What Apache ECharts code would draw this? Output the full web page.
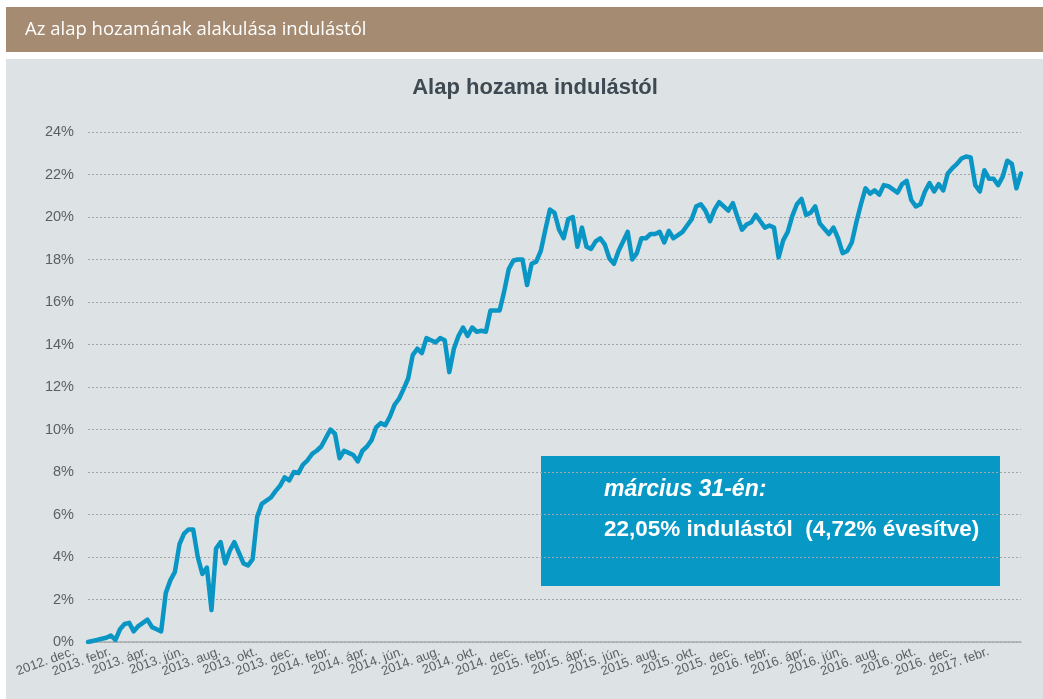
<!DOCTYPE html>
<html>
<head>
<meta charset="utf-8">
<script src="https://cdn.jsdelivr.net/npm/echarts@6/dist/echarts.min.js"></script>
<style>
  html, body { margin: 0; padding: 0; background: #fff; }
  #chart { width: 1043px; height: 699px; }
</style>
</head>
<body>
<div id="chart"></div>
<script>
// x-axis labels, one every two months
const tickLabels = [
  '2012. dec.', '2013. febr.', '2013. ápr.', '2013. jún.', '2013. aug.', '2013. okt.',
  '2013. dec.', '2014. febr.', '2014. ápr.', '2014. jún.', '2014. aug.', '2014. okt.',
  '2014. dec.', '2015. febr.', '2015. ápr.', '2015. jún.', '2015. aug.', '2015. okt.',
  '2015. dec.', '2016. febr.', '2016. ápr.', '2016. jún.', '2016. aug.', '2016. okt.',
  '2016. dec.', '2017. febr.'
];
const pointsPerTick = 8; // roughly weekly points

// cumulative return since launch, %
const fundReturn = [
  0.0, 0.05, 0.1, 0.15, 0.2, 0.3, 0.1, 0.6, 0.85, 0.9,
  0.5, 0.75, 0.9, 1.05, 0.7, 0.6, 0.5, 2.3, 2.9, 3.3,
  4.6, 5.1, 5.3, 5.3, 4.0, 3.2, 3.5, 1.5, 4.4, 4.7,
  3.7, 4.3, 4.7, 4.2, 3.7, 3.6, 3.9, 5.9, 6.5,
  6.65, 6.8, 7.1, 7.35, 7.75, 7.6, 8.0, 7.95, 8.35, 8.55,
  8.85, 9.0, 9.2, 9.6, 10.0, 9.8, 8.65, 9.0, 8.9, 8.8,
  8.5, 9.0, 9.2, 9.5, 10.1, 10.3, 10.2, 10.6, 11.15, 11.45,
  11.9, 12.4, 13.5, 13.8, 13.6, 14.3, 14.2, 14.1, 14.3, 14.2,
  12.7, 13.8, 14.4, 14.8, 14.4, 14.8, 14.6, 14.65, 14.6, 15.6,
  15.6, 15.6, 16.5, 17.55, 17.95, 18.0, 18.0, 16.8, 17.8,
  17.9, 18.4, 19.4, 20.35, 20.2, 19.4, 19.0, 19.9, 20.0, 18.6,
  19.5, 18.6, 18.5, 18.85, 19.0, 18.7, 18.05, 17.8, 18.4, 18.85,
  19.3, 18.0, 18.3, 19.0, 19.0, 19.2, 19.2, 19.3, 18.8, 19.35,
  19.0, 19.15, 19.3, 19.6, 19.9, 20.5, 20.6, 20.3, 19.8, 20.35,
  20.7, 20.5, 20.3, 20.65, 20.0, 19.4, 19.65, 19.75, 20.1, 19.8,
  19.5, 19.6, 19.5, 18.1, 18.9, 19.3, 20.05, 20.6, 20.85,
  20.1, 20.2, 20.5, 19.7, 19.45, 19.2, 19.5, 19.0, 18.3, 18.4,
  18.8, 19.75, 20.6, 21.35, 21.1, 21.25, 21.05, 21.5, 21.45, 21.3,
  21.15, 21.55, 21.7, 20.8, 20.5, 20.6, 21.2, 21.6, 21.2, 21.55,
  21.25, 22.05, 22.3, 22.5, 22.75, 22.85, 22.8, 21.5, 21.2, 22.2,
  21.8, 21.8, 21.5, 21.9, 22.65, 22.5, 21.35, 22.05
];

const categories = fundReturn.map((_, i) =>
  tickLabels[Math.floor(i / pointsPerTick)] + '|' + (i % pointsPerTick));

const chart = echarts.init(document.getElementById('chart'));

const option = {
  backgroundColor: '#ffffff',
  animation: false,
  title: {
    text: 'Alap hozama indulástól',
    left: 530,
    top: 72,
    textAlign: 'center',
    textStyle: {
      fontFamily: 'Liberation Sans',
      fontSize: 22,
      fontWeight: 'bold',
      color: '#3e4a52'
    }
  },
  graphic: [
    {
      type: 'rect',
      z: -10,
      shape: { x: 6, y: 7, width: 1037, height: 45 },
      style: { fill: '#a58b72' }
    },
    {
      type: 'text',
      z: -9,
      x: 25,
      y: 30,
      style: {
        text: 'Az alap hozamának alakulása indulástól',
        fill: '#ffffff',
        font: '18.5px "Open Sans"',
        verticalAlign: 'middle'
      }
    },
    {
      type: 'rect',
      z: -10,
      shape: { x: 6, y: 59, width: 1037, height: 640 },
      style: { fill: '#dde2e5' }
    },
    {
      type: 'group',
      z: 100,
      children: [
        {
          type: 'rect',
          shape: { x: 541, y: 456, width: 459, height: 130 },
          style: { fill: '#0898c6' }
        },
        {
          type: 'text',
          x: 604,
          y: 490,
          style: {
            text: 'március 31-én:',
            fill: '#ffffff',
            font: 'italic bold 23px "Liberation Sans"',
            verticalAlign: 'middle'
          }
        },
        {
          type: 'text',
          x: 604,
          y: 530,
          style: {
            text: '22,05% indulástól  (4,72% évesítve)',
            fill: '#ffffff',
            font: 'bold 22.5px "Liberation Sans"',
            verticalAlign: 'middle'
          }
        }
      ]
    }
  ],
  grid: {
    left: 88,
    right: 22,
    top: 132,
    bottom: 57
  },
  xAxis: {
    type: 'category',
    data: categories,
    boundaryGap: false,
    axisLine: { lineStyle: { color: '#a8aaac', width: 1.5 } },
    axisTick: { show: false },
    axisLabel: {
      // every point gets a label slot, only the first point of each two-month block is written
      interval: 0,
      formatter: (value, index) =>
        index % pointsPerTick === 0 ? value.split('|')[0] : '',
      rotate: 20,
      margin: 4,
      padding: [0, 15, 0, 0],
      hideOverlap: false,
      fontFamily: 'Liberation Sans',
      fontSize: 13,
      color: '#5a5f63'
    },
    splitLine: { show: false }
  },
  yAxis: {
    type: 'value',
    min: 0,
    max: 24,
    interval: 2,
    axisLine: { show: false },
    axisTick: { show: false },
    axisLabel: {
      formatter: '{value}%',
      margin: 14,
      fontFamily: 'Liberation Sans',
      fontSize: 14.5,
      color: '#5a5f63'
    },
    splitLine: {
      lineStyle: { type: [2, 2], color: '#a3a6a8', width: 1 }
    }
  },
  series: [
    {
      name: 'Alap hozama',
      type: 'line',
      data: fundReturn,
      showSymbol: false,
      smooth: false,
      lineStyle: { color: '#0a96c4', width: 4.5, join: 'round', cap: 'round' }
    }
  ]
};

chart.setOption(option);

window.addEventListener('resize', () => chart.resize());
</script>
</body>
</html>
